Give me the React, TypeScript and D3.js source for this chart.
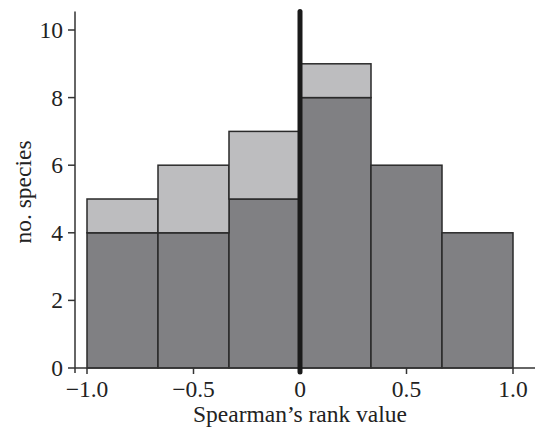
import React, { useEffect, useRef } from "react";
import * as d3 from "d3";

// bin edges of the Spearman's rank histogram
const binEdges = [-1, -2 / 3, -1 / 3, 0, 1 / 3, 2 / 3, 1];
// lower (dark) part of each bar
const darkCounts = [4, 4, 5, 8, 6, 4];
// upper (light) part stacked on top
const lightCounts = [1, 2, 2, 1, 0, 0];

const xTicks = [-1, -0.5, 0, 0.5, 1];
const xTickLabels = ["\u22121.0", "\u22120.5", "0", "0.5", "1.0"];
const yTicks = [0, 2, 4, 6, 8, 10];

const App = () => {
  const svgRef = useRef<SVGSVGElement>(null);

  useEffect(() => {
    const width = 538;
    const height = 432;
    const font = "'Liberation Serif', 'Times New Roman', serif";
    const fontSize = 23.5;

    d3.select(svgRef.current).selectAll("*").remove();
    const svg = d3.select(svgRef.current).attr("width", width).attr("height", height);

    const x = d3.scaleLinear().domain([-1, 1]).range([87, 513]);
    const y = d3.scaleLinear().domain([0, 10]).range([368, 30]);
    const axisX = 75;

    const bins = darkCounts.map((d, i) => ({
      x0: binEdges[i],
      x1: binEdges[i + 1],
      dark: d,
      light: lightCounts[i],
    }));

    // dark bars
    svg.append("g")
      .selectAll("rect")
      .data(bins)
      .enter()
      .append("rect")
      .attr("x", (d) => x(d.x0))
      .attr("y", (d) => y(d.dark))
      .attr("width", (d) => x(d.x1) - x(d.x0))
      .attr("height", (d) => y(0) - y(d.dark))
      .attr("fill", "#808083")
      .attr("stroke", "#2a2a2a")
      .attr("stroke-width", 1.5);

    // light tops
    svg.append("g")
      .selectAll("rect")
      .data(bins.filter((d) => d.light > 0))
      .enter()
      .append("rect")
      .attr("x", (d) => x(d.x0))
      .attr("y", (d) => y(d.dark + d.light))
      .attr("width", (d) => x(d.x1) - x(d.x0))
      .attr("height", (d) => y(d.dark) - y(d.dark + d.light))
      .attr("fill", "#bdbdbf")
      .attr("stroke", "#2a2a2a")
      .attr("stroke-width", 1.5);

    const axisColor = "#333";

    // y axis
    svg.append("line")
      .attr("x1", axisX).attr("x2", axisX)
      .attr("y1", y(0) + 5).attr("y2", y(10.55))
      .attr("stroke", axisColor).attr("stroke-width", 1.5);

    const yt = svg.append("g").selectAll("g").data(yTicks).enter().append("g");
    yt.append("line")
      .attr("x1", axisX - 7).attr("x2", axisX)
      .attr("y1", (d) => y(d)).attr("y2", (d) => y(d))
      .attr("stroke", axisColor).attr("stroke-width", 1.5);
    yt.append("text")
      .attr("x", 63)
      .attr("y", (d) => y(d) + 8)
      .attr("text-anchor", "end")
      .attr("font-family", font)
      .attr("font-size", fontSize)
      .attr("fill", "#222")
      .text((d) => String(d));

    // x axis
    svg.append("line")
      .attr("x1", axisX).attr("x2", 535)
      .attr("y1", y(0)).attr("y2", y(0))
      .attr("stroke", axisColor).attr("stroke-width", 1.5);

    const xt = svg.append("g").selectAll("g").data(xTicks).enter().append("g");
    xt.append("line")
      .attr("x1", (d) => x(d)).attr("x2", (d) => x(d))
      .attr("y1", y(0)).attr("y2", y(0) + 6)
      .attr("stroke", axisColor).attr("stroke-width", 1.5);
    xt.append("text")
      .attr("x", (d) => x(d))
      .attr("y", 397)
      .attr("text-anchor", "middle")
      .attr("font-family", font)
      .attr("font-size", fontSize)
      .attr("fill", "#222")
      .text((d, i) => xTickLabels[i]);

    // zero line
    svg.append("line")
      .attr("x1", x(0)).attr("x2", x(0))
      .attr("y1", y(10.55)).attr("y2", y(0) + 4)
      .attr("stroke", "#1a1a1a")
      .attr("stroke-width", 5)
      .attr("stroke-linecap", "round");

    // axis titles
    svg.append("text")
      .attr("x", x(0))
      .attr("y", 422)
      .attr("text-anchor", "middle")
      .attr("font-family", font)
      .attr("font-size", fontSize)
      .attr("fill", "#222")
      .text("Spearman\u2019s rank value");

    svg.append("text")
      .attr("transform", "translate(31,192) rotate(-90)")
      .attr("text-anchor", "middle")
      .attr("font-family", font)
      .attr("font-size", fontSize)
      .attr("fill", "#222")
      .text("no. species");
  }, []);

  return (
    <svg
      ref={svgRef}
      style={{ position: "absolute", left: 0, top: 0, background: "#fff" }}
    ></svg>
  );
};

export default App;
